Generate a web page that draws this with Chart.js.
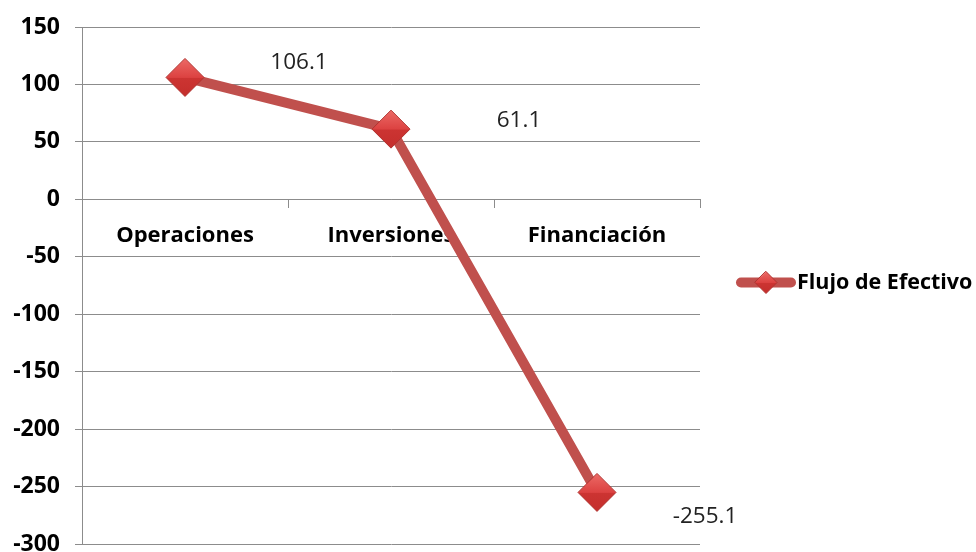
<!DOCTYPE html>
<html lang="es">
<head>
    <meta charset="UTF-8">
    <title>Flujo de Efectivo</title>
    <script src="https://cdn.jsdelivr.net/npm/chart.js"></script>
    <style>
        html, body { margin: 0; padding: 0; background: #fff; overflow: hidden; }
        /* a bit taller than the window: the bottom of the plot sits at the page edge, as in the original */
        #wrap { width: 976px; height: 564px; }
    </style>
</head>
<body>
    <div id="wrap"><canvas id="flujo-chart"></canvas></div>

    <script>
        // Datos
        const categorias = ["Operaciones", "Inversiones", "Financiación"];
        const valores = [106.1, 61.1, -255.1];
        const serieNombre = "Flujo de Efectivo";
        const ejeY = { min: -300, max: 150, paso: 50 };

        const rojoLinea = "#c0504d";
        const rojoMarca = "#d93b3b";
        const fuente = "'Open Sans', sans-serif";
        const radioMarca = 19;

        function degradado(ctx, y, r) {
            const g = ctx.createLinearGradient(0, y - r, 0, y + r);
            g.addColorStop(0, "#ec6a66");
            g.addColorStop(0.5, "#dc4241");
            g.addColorStop(0.52, "#cc3432");
            g.addColorStop(1, "#c42e2c");
            return g;
        }

        // shaded diamond: lighter on top, darker below
        function rellenoMarca(c) {
            const sy = c.chart.scales.y;
            if (!sy || typeof c.raw !== "number") return rojoMarca;
            const y = sy.getPixelForValue(c.raw);
            if (!Number.isFinite(y)) return rojoMarca;
            return degradado(c.chart.ctx, y, radioMarca);
        }

        // value labels next to each point
        const etiquetas = {
            id: "etiquetas",
            afterDatasetsDraw(chart, args, opts) {
                const ctx = chart.ctx;
                const meta = chart.getDatasetMeta(0);
                ctx.save();
                ctx.font = "22.5px " + fuente;
                ctx.fillStyle = "#222";
                ctx.textAlign = "center";
                ctx.textBaseline = "middle";
                meta.data.forEach((pt, i) => {
                    const off = opts.desplazamientos[i];
                    ctx.fillText(valores[i].toFixed(1), pt.x + off[0], pt.y + off[1]);
                });
                ctx.restore();
            }
        };

        // legend to the right of the plot: thick line, diamond, bold name
        const leyenda = {
            id: "leyenda",
            afterDraw(chart) {
                const ctx = chart.ctx;
                const a = chart.chartArea;
                const y = (a.top + a.bottom) / 2 - 3;
                const x0 = a.right + 41;
                ctx.save();
                ctx.strokeStyle = rojoLinea;
                ctx.lineWidth = 10;
                ctx.lineCap = "round";
                ctx.beginPath();
                ctx.moveTo(x0, y); ctx.lineTo(x0 + 50, y);
                ctx.stroke();
                ctx.fillStyle = degradado(ctx, y, 11);
                ctx.strokeStyle = "#b03330";
                ctx.lineWidth = 1;
                ctx.beginPath();
                ctx.moveTo(x0 + 25, y - 11); ctx.lineTo(x0 + 36, y);
                ctx.lineTo(x0 + 25, y + 11); ctx.lineTo(x0 + 14, y);
                ctx.closePath();
                ctx.fill(); ctx.stroke();
                ctx.font = "bold 21.5px " + fuente;
                ctx.fillStyle = "#000";
                ctx.textAlign = "left";
                ctx.textBaseline = "middle";
                ctx.fillText(serieNombre, x0 + 56, y);
                ctx.restore();
            }
        };

        new Chart(document.getElementById("flujo-chart"), {
            type: "line",
            data: {
                labels: categorias,
                datasets: [{
                    label: serieNombre,
                    data: valores,
                    borderColor: rojoLinea,
                    borderWidth: 10,
                    borderJoinStyle: "round",
                    tension: 0,
                    pointStyle: "rectRot",
                    pointRadius: radioMarca,
                    pointHoverRadius: radioMarca,
                    pointBackgroundColor: rellenoMarca,
                    pointBorderColor: "#b03330",
                    pointBorderWidth: 1
                }]
            },
            options: {
                responsive: true,
                maintainAspectRatio: false,
                animation: false,
                layout: { padding: { top: 27, bottom: 7, left: 0, right: 276 } },
                plugins: {
                    tooltip: { enabled: false },
                    legend: { display: false },
                    etiquetas: { desplazamientos: [[114, -15], [128, -9], [108, 24]] }
                },
                scales: {
                    x: {
                        position: { y: 0 },
                        offset: true,
                        afterFit: (s) => { s.height = 0; s.paddingTop = 0; s.paddingBottom = 0; },
                        grid: {
                            offset: true,
                            drawOnChartArea: false,
                            drawTicks: true,
                            tickLength: 8,
                            color: "#8c8c8c"
                        },
                        border: { color: "#8c8c8c", width: 1 },
                        ticks: {
                            color: "#000",
                            padding: 15,
                            font: { family: fuente, size: 22, weight: "bold" }
                        }
                    },
                    y: {
                        min: ejeY.min,
                        max: ejeY.max,
                        afterFit: (s) => { s.paddingTop = 0; s.paddingBottom = 0; s.width = 82; },
                        grid: { color: "#8c8c8c", tickLength: 7 },
                        border: { color: "#8c8c8c", width: 1 },
                        ticks: {
                            stepSize: ejeY.paso,
                            color: "#000",
                            padding: 15,
                            font: { family: fuente, size: 23, weight: "bold" }
                        }
                    }
                }
            },
            plugins: [etiquetas, leyenda]
        });
    </script>
</body>
</html>
